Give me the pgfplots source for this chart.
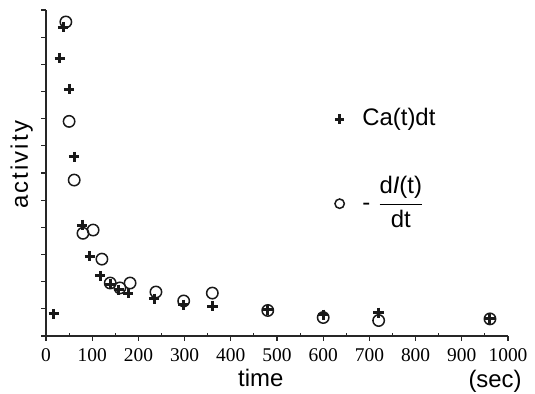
\documentclass[border=0pt]{standalone}
\usepackage{pgfplots}
\pgfplotsset{compat=1.18}
\usepackage{fontspec}
\setmainfont{Liberation Sans}
\newfontfamily\tnr{Liberation Serif}
\begin{document}
\begin{tikzpicture}
\begin{axis}[
  scale only axis,
  width=462bp, height=326bp,
  xmin=0, xmax=1000, ymin=0, ymax=12,
  axis x line=bottom, axis y line=left,
  axis line style={-, line width=1.4bp, black!85},
  tick style={line width=1.1bp, black!85},
  tick align=outside,
  major tick length=4.5bp,
  minor tick length=3bp,
  xtick={0,100,...,1000},
  minor x tick num=1,
  minor x tick style={yshift=3bp},
  ytick={0,1,...,12},
  yticklabels={},
  /pgf/number format/assume math mode=true,
  /pgf/number format/set thousands separator={},
  xticklabel style={font=\tnr\fontsize{19.5}{19.5}\selectfont, inner sep=0pt, anchor=north, yshift=-7.5bp},
  xlabel={time},
  xlabel style={at={(rel axis cs:0.465,-0.156)}, anchor=base, font=\fontsize{24}{24}\selectfont, inner sep=0pt},
  ylabel={\addfontfeature{LetterSpace=9}activity},
  ylabel style={at={(rel axis cs:-0.039,0.525)}, anchor=base, font=\fontsize{24}{24}\selectfont, inner sep=0pt},
  clip=false,
  legend style={at={(axis cs:625,8.39)}, anchor=north west, draw=none, fill=none,
    inner sep=0pt, row sep=49bp, column sep=18bp,
    font=\fontsize{24}{26}\selectfont,
    nodes={anchor=base west, inner sep=0pt}},
  legend image code/.code={\draw[#1, mark size=4.7bp] plot coordinates {(0bp,6.5bp)};},
]
\addplot[only marks, mark=+, mark size=5.2bp, line width=3bp, mark options={line width=3bp}, black!90] coordinates {
(17,0.81) (30,10.23) (37,11.37) (50,9.09) (61,6.59) (78,4.08) (95,2.94)
(117,2.21) (139,1.91) (158,1.70) (178,1.58) (234,1.37) (297,1.15) (360,1.10)
(480,0.96) (600,0.78) (720,0.85) (961,0.63)
};
\addlegendentry{Ca(t)dt}
\addplot[only marks, mark=o, mark size=5.7bp, line width=1.5bp, mark options={line width=1.5bp}, black!90] coordinates {
(43,11.56) (50,7.90) (61,5.74) (80,3.78) (102,3.90) (121,2.83) (139,1.95)
(160,1.77) (182,1.95) (238,1.62) (298,1.29) (360,1.58) (480,0.94)
(600,0.68) (720,0.57) (961,0.63)
};
\addlegendentry{-\hspace{8bp}$\displaystyle\frac{\mbox{d\textit{I}(t)}}{\mbox{dt}}$}
\node[anchor=base, font=\fontsize{24}{24}\selectfont, inner sep=0pt] at ([yshift=-51bp]axis cs:972,0) {(sec)};
\coordinate (bbsw) at ([shift={(-46bp,-58bp)}]rel axis cs:0,0);
\coordinate (bbne) at ([shift={(27bp,10bp)}]rel axis cs:1,1);
\end{axis}
\pgfresetboundingbox
\path[use as bounding box] (bbsw) rectangle (bbne);
\end{tikzpicture}
\end{document}
